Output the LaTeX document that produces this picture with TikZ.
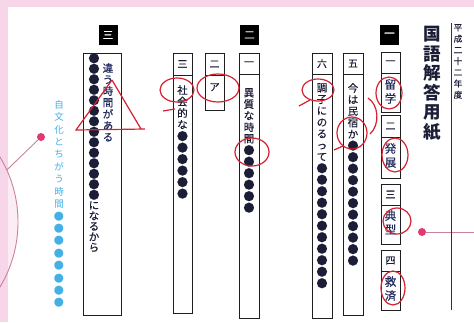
\documentclass[tikz,border=0pt]{standalone}
\usepackage{fontspec}
\usepackage{graphicx}
\newfontfamily\jp[FakeBold=0.35]{Noto Sans CJK JP}
\newfontfamily\jpt{Noto Sans CJK JP}
\newcommand\bigdot{\smash{\raisebox{-0.3pt}{\scalebox{1.06}{●}}}}
\ExplSyntaxOn
\NewDocumentCommand\vt{m}{
  \seq_clear:N \l_tmpa_seq
  \tl_map_inline:nn {#1} {
    \str_if_eq:nnTF {##1} {●}
      { \seq_put_right:Nn \l_tmpa_seq {\bigdot} }
      { \seq_put_right:Nn \l_tmpa_seq {##1} }
  }
  \seq_use:Nn \l_tmpa_seq {\\}
}
\ExplSyntaxOff
\definecolor{ink}{HTML}{1B1E36}
\definecolor{ans}{HTML}{222A5C}
\definecolor{redpen}{HTML}{D42030}
\definecolor{pinkband}{HTML}{F6D6E8}
\definecolor{pinkin}{HTML}{FCEDF5}
\definecolor{mauve}{HTML}{C9829E}
\definecolor{dotred}{HTML}{E23A6E}
\definecolor{skyblue}{HTML}{45B0E5}
\begin{document}
\begin{tikzpicture}[x=1pt,y=-1pt,
  frame/.style={draw=black!88, line width=0.8pt},
  vtxt/.style={inner sep=0pt, anchor=north, align=center, text=ink, font=\jp\fontsize{10.5}{11.5}\selectfont},
  bigans/.style={vtxt, text=ans, font=\jp\fontsize{11.5}{14}\selectfont},
  numlbl/.style={inner sep=0pt, text=ink, font=\jp\fontsize{10}{11}\selectfont},
  blackbox/.style={fill=black, text=white, minimum width=19pt, minimum height=20pt, inner sep=0pt, font=\jp\fontsize{10.5}{11}\selectfont},
  pen/.style={draw=redpen, line width=1.2pt},
  pdot/.style={circle, fill=dotred, inner sep=0pt, minimum size=8pt},
]
\useasboundingbox (0,0) rectangle (474,322);
\fill[white] (0,0) rectangle (474,322);
% pink surroundings
\fill[pinkin] (-108,222) circle (126pt);
\fill[pinkband] (0,0) rectangle (474,7);
\fill[pinkband] (0,0) rectangle (8,322);
\draw[mauve, line width=0.9pt] (-108,222) circle (126pt);
\coordinate (cedge) at (6.8,170);
\node[pdot] (ldot) at (41,137) {};
\draw[mauve, line width=0.9pt] (cedge) -- (ldot);
\node[pdot] (rdot) at (422,232) {};
\coordinate (redge) at (474,232);
\draw[mauve, line width=0.9pt] (rdot) -- (redge);

% blue side text
\node[inner sep=0pt, anchor=north, align=center, text=skyblue, font=\jpt\fontsize{9.5}{12.4}\selectfont] (side) at (59,100) {\vt{自文化とちがう時間●●●●●●●●}};

% title and year
\node[inner sep=0pt, anchor=north, align=center, text=ink, font=\jpt\bfseries\fontsize{17.5}{19.6}\selectfont] (title) at (432,26) {\vt{国語解答用紙}};
\node[inner sep=0pt, anchor=north, align=center, text=ink, font=\jp\fontsize{8.5}{11.2}\selectfont] (year) at (458,24) {\vt{平成二十二年度}};
\draw[black!80, line width=0.8pt] (451,23) -- (451,310);

% section heads
\node[blackbox] (sec1) at (389.5,35) {一};
\node[blackbox] (sec2) at (249.5,35) {二};
\node[blackbox] (sec3) at (108,35) {三};

% section 1, right column
\draw[frame] (381,52) rectangle (400,112); \draw[frame] (381,73) -- (400,73);
\draw[frame] (381,115) rectangle (400,178); \draw[frame] (381,137) -- (400,137);
\draw[frame] (381,184) rectangle (400,244); \draw[frame] (381,205) -- (400,205);
\draw[frame] (381,250) rectangle (400,310); \draw[frame] (381,271) -- (400,271);
\node[numlbl] (q11) at (390.5,62.5) {一};
\node[numlbl] (q12) at (390.5,126) {二};
\node[numlbl] (q13) at (390.5,194.5) {三};
\node[numlbl] (q14) at (390.5,260.5) {四};
\node[bigans] (a11) at (390.5,79) {\vt{留学}};
\node[bigans] (a12) at (390.5,143) {\vt{発展}};
\node[bigans] (a13) at (390.5,210) {\vt{典型}};
\node[bigans] (a14) at (390.5,276) {\vt{救済}};

% section 1, questions 5 and 6
\draw[frame] (343,53) rectangle (363,315); \draw[frame] (343,74) -- (363,74);
\node[numlbl] (q15) at (353,63.5) {五};
\node[vtxt] (a15) at (353,83) {\vt{今は民宿か●●●●●●●●●●●}};
\draw[frame] (312,53) rectangle (332,318); \draw[frame] (312,74) -- (332,74);
\node[numlbl] (q16) at (322,63.5) {六};
\node[vtxt] (a16) at (322,83) {\vt{調子にのるって●●●●●●●●●●●}};

% section 2
\draw[frame] (239,53) rectangle (259,318); \draw[frame] (239,74) -- (259,74);
\node[numlbl] (q21) at (249,63.5) {一};
\node[vtxt] (a21) at (249,88) {\vt{異質な時間●●●●●●}};
\draw[frame] (205,53) rectangle (224,110); \draw[frame] (205,75) -- (224,75);
\node[numlbl] (q22) at (214.5,64) {二};
\node[vtxt] (a22) at (214.5,83) {ア};
\draw[frame] (173,53) rectangle (192,313); \draw[frame] (173,75) -- (192,75);
\node[numlbl] (q23) at (182.5,64) {三};
\node[vtxt] (a23) at (182.5,85) {\vt{社会的な●●●●●●}};

% section 3
\draw[frame] (83,53) rectangle (121,315);
\node[vtxt, text=ans] (a31) at (108,63) {\vt{違う時間がある}};
\node[vtxt, font=\jp\fontsize{10.5}{10.5}\selectfont] (a32) at (94,62) {\vt{●●●●●●●●●●●●●●になるから}};

% red pen marks
\draw[pen] (389,93) ellipse (13pt and 16pt);
\draw[pen] (395,155) ellipse (13pt and 17pt);
\draw[pen] (397,221) ellipse (14pt and 13pt);
\draw[pen] (393,288) ellipse (12pt and 17pt);
\draw[pen] (368,98) .. controls (379,105) and (380,125) .. (370,134);
\draw[pen] (352,133) ellipse (15pt and 16pt);
\draw[pen] (343,146) -- (334,150);
\draw[pen] (318,90) ellipse (16pt and 11pt);
\draw[pen] (310,100) -- (299,106);
\draw[pen] (177,90) ellipse (17pt and 12pt);
\draw[pen] (175,109) -- (163,111);
\draw[pen] (218,88) ellipse (21pt and 14pt);
\draw[pen] (252,152) ellipse (17pt and 14pt);
\draw[pen] (112,80) -- (76,130) -- (145,129);
\draw[pen] (112,80) -- (141,129);
\end{tikzpicture}
\end{document}
